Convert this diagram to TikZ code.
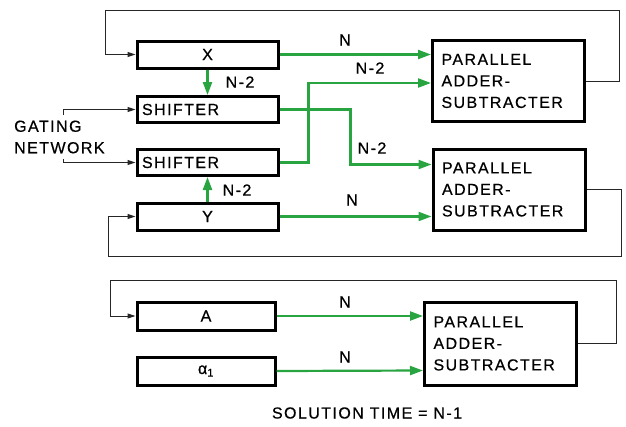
\documentclass[tikz,border=0pt]{standalone}
\usepackage{fontspec}
\setmainfont{Liberation Sans}[LetterSpace=9, FakeBold=0.6]
\usepackage{xcolor}
\usetikzlibrary{arrows.meta, calc}
\definecolor{busgreen}{RGB}{40,165,65}
\tikzset{
  bus/.style={draw=busgreen, line width=2.2pt,
    -{Triangle[length=13pt,width=9pt]}},
  ctl/.style={draw=black!85, line width=1pt,
    -{Triangle[length=8pt,width=5pt]}}
}

\begin{document}
\begin{tikzpicture}[x=1pt, y=-1pt,
    font=\fontsize{16}{21.5}\selectfont,
    register/.style={draw, line width=3pt, minimum width=141pt,
      minimum height=26pt, inner sep=0pt},
    shifter/.style={register, align=left, text width=131pt, inner xsep=5pt},
    adder/.style={draw, line width=3pt, minimum width=152pt,
      minimum height=81pt, align=left, text width=134pt, inner xsep=9pt},
    busname/.style={inner sep=1pt} ]
    \useasboundingbox (0,0) rectangle (626,426);
    % registers and shifters
    \node at (207.5,54.5) [register, minimum height=27pt] (X) {X};
    \node at (207.5,109.5) [shifter] (sh1) {SHIFTER};
    \node at (207.5,162.5) [shifter] (sh2) {SHIFTER};
    \node at (207.5,216.5) [register, minimum height=27pt] (Y) {Y};
    \node at (206,316) [register, minimum width=138pt, minimum height=28pt] (A) {A};
    \node at (206,371) [register, minimum width=138pt, minimum height=28pt] (al) {α\textsubscript{1}};
    % adder-subtracters
    \node at (508.5,81) [adder] (add1) {PARALLEL\\ADDER-\\SUBTRACTER};
    \node at (509,189.5) [adder, minimum width=150pt] (add2) {PARALLEL\\ADDER-\\SUBTRACTER};
    \node at (500.5,343.5) [adder, minimum width=147pt, minimum height=83pt] (add3) {PARALLEL\\ADDER-\\SUBTRACTER};
    % gating network
    \node at (14,137) [anchor=west, align=left, inner sep=0pt] (gate) {GATING\\NETWORK};
    \coordinate (g1) at (63,115);
    \coordinate (g2) at (63,159);
    \draw [ctl] (g1) |- (sh1.west);
    \draw [ctl] (g2) |- (sh2.west);
    % feedback loops
    \coordinate (fb1) at (105,10);
    \coordinate (fb2) at (108,256);
    \coordinate (fb3) at (110,280);
    \draw [ctl] (add1.east) -- ++(33,0) |- (fb1) |- (X.west);
    \draw [ctl] (add2.east) -- ++(35,0) |- (fb2) |- (Y.west);
    \draw [ctl] (add3.east) -- ++(38,0) |- (fb3) |- (A.west);
    % data paths
    \draw [bus] (X.east) -- (X.east -| add1.west);
    \draw [bus] (X.south) -- (sh1.north);
    \draw [bus] (Y.north) -- (sh2.south);
    \draw [bus] (sh1.east) -- ++(71,0) |- ([yshift=25pt]add2.west);
    \draw [bus] (sh2.east) -- ++(29,0) |- ([yshift=-2pt]add1.west);
    \draw [bus] (Y.east) -- (Y.east -| add2.west);
    \draw [bus] (A.east) -- (A.east -| add3.west);
    \draw [bus] (al.east) -- ([yshift=-27pt]add3.west);
    % word lengths
    \node at (345,40) [busname] (nX) {N};
    \node at (370,68) [busname] (nS2) {N-2};
    \node at (240,82) [busname] (nXS) {N-2};
    \node at (372,148) [busname] (nS1) {N-2};
    \node at (237,190) [busname] (nYS) {N-2};
    \node at (352,200) [busname] (nY) {N};
    \node at (345,302) [busname] (nA) {N};
    \node at (345,357) [busname] (nal) {N};
    \node at (367,413) [busname] (time) {SOLUTION TIME = N-1};
\end{tikzpicture}
\end{document}
